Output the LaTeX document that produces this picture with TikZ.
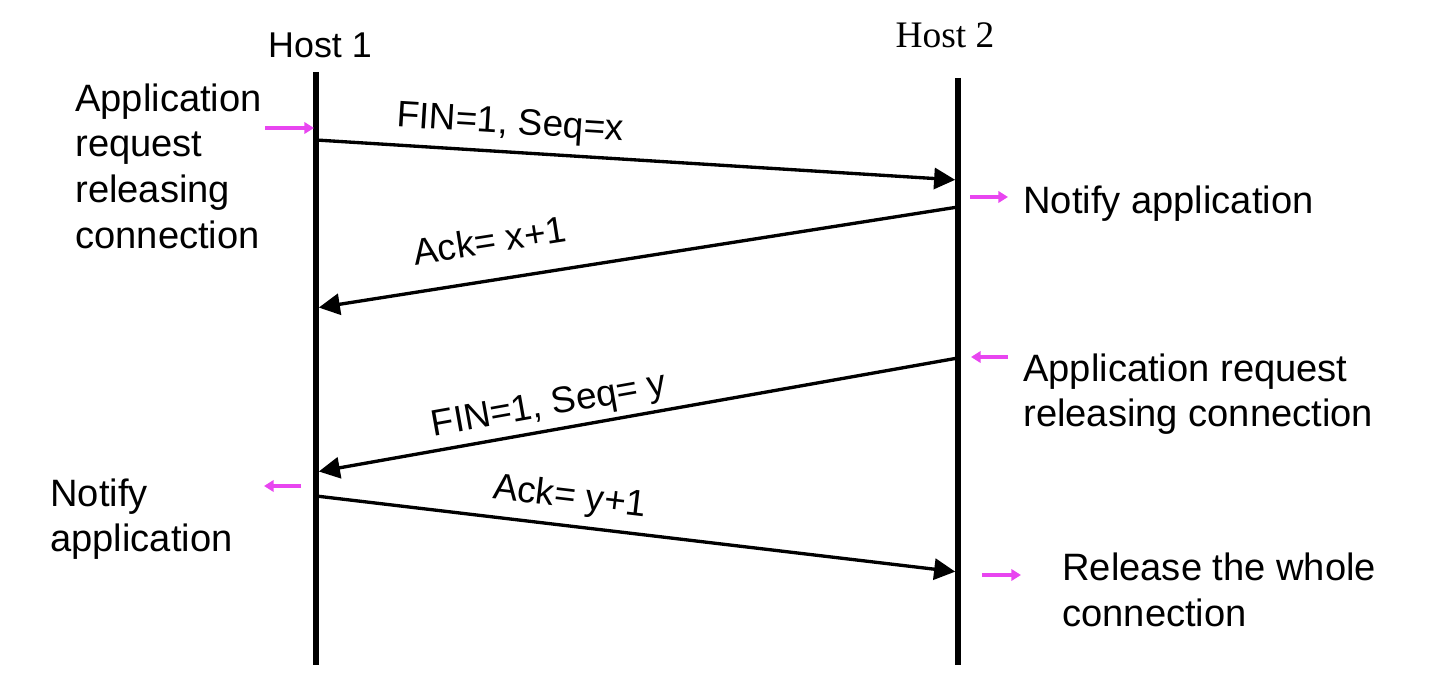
\documentclass[tikz,border=0pt]{standalone}
\usepackage{fontspec}
\setmainfont{Liberation Sans}
\newfontfamily\serifhost{Liberation Serif}
\usetikzlibrary{arrows.meta, positioning}
\definecolor{notepink}{HTML}{E845F0}
\tikzset{
    hostline/.style={line width=3.6pt},
    msg/.style={line width=1.9pt, -{Triangle[length=12pt,width=12pt]}, shorten >=1.6pt},
    cue/.style={line width=1.8pt, notepink, -{Triangle[length=5.5pt,width=6.5pt]}},
    txt/.style={inner sep=0pt, align=left, font=\fontsize{21.7}{26}\selectfont},
    msglabel/.style={sloped, above, inner sep=5pt, font=\fontsize{21}{25}\selectfont}
}
\begin{document}
\begin{tikzpicture}[x=0.02cm, y=-0.02cm]
    \useasboundingbox (0,0) rectangle (1444,678);
    % host time lines
    \coordinate (h1top) at (316,72);
    \coordinate (h1bot) at (316,665);
    \coordinate (h2top) at (958,78);
    \coordinate (h2bot) at (958,665);
    \draw[hostline] (h1top) -- (h1bot);
    \draw[hostline] (h2top) -- (h2bot);
    \node[txt, font=\fontsize{20.4}{24}\selectfont] (host1) at (320,45) {Host 1};
    \node[txt, font=\fontsize{21.3}{25}\serifhost] (host2) at (945,35) {Host 2};
    % message end points
    \coordinate (a1) at (316,140);
    \coordinate (b1) at (958,180);
    \coordinate (b2) at (958,207);
    \coordinate (a2) at (316,308);
    \coordinate (b3) at (958,358);
    \coordinate (a3) at (316,472);
    \coordinate (a4) at (316,496);
    \coordinate (b4) at (958,572);
    \draw[msg] (a1) -- node[msglabel, pos=0.3] (m1) {FIN=1, Seq=x} (b1);
    \draw[msg] (b2) -- node[msglabel, pos=0.72, inner sep=14pt] (m2) {Ack= x+1} (a2);
    \draw[msg] (b3) -- node[msglabel, pos=0.63, inner sep=3pt] (m3) {FIN=1, Seq= y} (a3);
    \draw[msg] (a4) -- node[msglabel, pos=0.39] (m4) {Ack= y+1} (b4);
    % application events
    \node[txt, anchor=west] (req1) at (75,166) {Application\\request\\releasing\\connection};
    \node[txt, anchor=west] (not2) at (1023,204) {Notify application};
    \node[txt, anchor=west] (req2) at (1023,394) {Application request\\releasing connection};
    \node[txt, anchor=west] (not1) at (50,519) {Notify\\application};
    \node[txt, anchor=west] (rel2) at (1062,590) {Release the whole\\connection};
    \coordinate (c1s) at (265,128);  \coordinate (c1e) at (314,128);
    \coordinate (c2s) at (970,197);  \coordinate (c2e) at (1008,197);
    \coordinate (c3s) at (1008,357); \coordinate (c3e) at (971,357);
    \coordinate (c4s) at (301,486);  \coordinate (c4e) at (264,486);
    \coordinate (c5s) at (982,575);  \coordinate (c5e) at (1021,575);
    \draw[cue] (c1s) -- (c1e);
    \draw[cue] (c2s) -- (c2e);
    \draw[cue] (c3s) -- (c3e);
    \draw[cue] (c4s) -- (c4e);
    \draw[cue] (c5s) -- (c5e);
\end{tikzpicture}
\end{document}
